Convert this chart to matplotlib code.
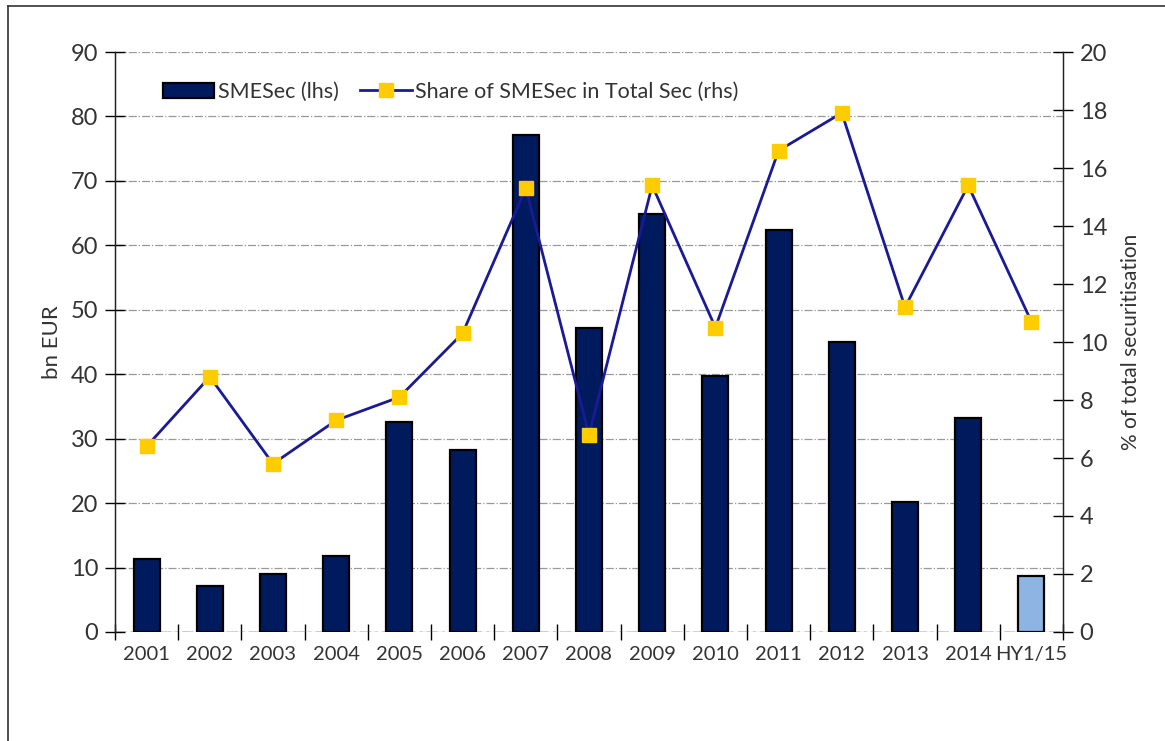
import matplotlib
matplotlib.use("Agg")
import matplotlib.pyplot as plt
from matplotlib.lines import Line2D
import numpy as np

plt.rcParams['font.family'] = ['Lato', 'DejaVu Sans']

categories = ['2001', '2002', '2003', '2004', '2005', '2006', '2007', '2008',
              '2009', '2010', '2011', '2012', '2013', '2014', 'HY1/15']
sme_sec = [11.3, 7.2, 9.0, 11.8, 32.6, 28.2, 77.1, 47.2,
           64.9, 39.7, 62.4, 45.0, 20.2, 33.2, 8.7]
share = [6.4, 8.8, 5.8, 7.3, 8.1, 10.3, 15.3, 6.8,
         15.4, 10.5, 16.6, 17.9, 11.2, 15.4, 10.7]

navy = '#001A5E'
light = '#8DB4E2'
line_col = '#1A1A96'
gold = '#FFCC00'
txt = '#333333'

fig = plt.figure(figsize=(11.65, 7.41), dpi=100)
ax = fig.add_axes([115 / 1165, 1 - 632 / 741, 948 / 1165, 580 / 741])
ax2 = ax.twinx()

x = np.arange(len(categories))
colors = [navy] * (len(categories) - 1) + [light]
bars = ax.bar(x, sme_sec, width=0.41, color=colors, edgecolor='black',
              linewidth=1.6, zorder=3)

ln, = ax2.plot(x, share, color=line_col, linewidth=2, marker='s',
               markersize=10, markerfacecolor=gold, markeredgecolor=gold,
               zorder=4)

ax.set_xlim(-0.5, len(categories) - 0.5)
ax.set_ylim(0, 90)
ax2.set_ylim(0, 20)
ax.set_yticks(np.arange(0, 91, 10))
ax2.set_yticks(np.arange(0, 21, 2))
ax.set_xticks(x)
ax.set_xticklabels(categories)
ax.set_xticks(np.arange(-0.5, len(categories)), minor=True)

ax.yaxis.grid(True, linestyle='-.', color='#999999', linewidth=0.9, zorder=0)
ax.set_axisbelow(True)

for a in (ax, ax2):
    a.spines['top'].set_visible(False)
    a.spines['bottom'].set_visible(False)
    a.spines['left'].set_color('#222222')
    a.spines['right'].set_color('#222222')
    a.spines['left'].set_linewidth(0.9)
    a.spines['right'].set_linewidth(0.9)
ax.axhline(0, color='#333333', linewidth=1, linestyle=(0, (8, 3, 2, 3)), zorder=2)

ax.tick_params(axis='y', direction='inout', length=14, width=1, colors='black',
               labelcolor=txt, labelsize=17, pad=5)
ax2.tick_params(axis='y', direction='inout', length=14, width=1, colors='black',
                labelcolor=txt, labelsize=17, pad=5)
ax.tick_params(axis='x', which='major', length=0, labelcolor=txt, labelsize=14.5, pad=10)
ax.tick_params(axis='x', which='minor', direction='inout', length=12, width=1,
               colors='black')

ax.set_ylabel('bn EUR', fontsize=16, color=txt, labelpad=6)
ax2.set_ylabel('% of total securitisation', fontsize=15, color=txt, labelpad=10)

ax2.legend([bars, ln], ['SMESec (lhs)', 'Share of SMESec in Total Sec (rhs)'],
           loc='upper left', bbox_to_anchor=(0.03, 0.982), ncol=2, frameon=False,
           fontsize=15.5, handlelength=2.4, handletextpad=0.15, columnspacing=1.0,
           labelcolor=txt)

# outer frame (top and left edges)
fig.add_artist(Line2D([8 / 1165, 8 / 1165], [0, 1 - 6 / 741], transform=fig.transFigure,
                      color='#333333', linewidth=1.2))
fig.add_artist(Line2D([8 / 1165, 1], [1 - 6 / 741, 1 - 6 / 741], transform=fig.transFigure,
                      color='#333333', linewidth=1.2))

fig.savefig('out.png', dpi=100)
